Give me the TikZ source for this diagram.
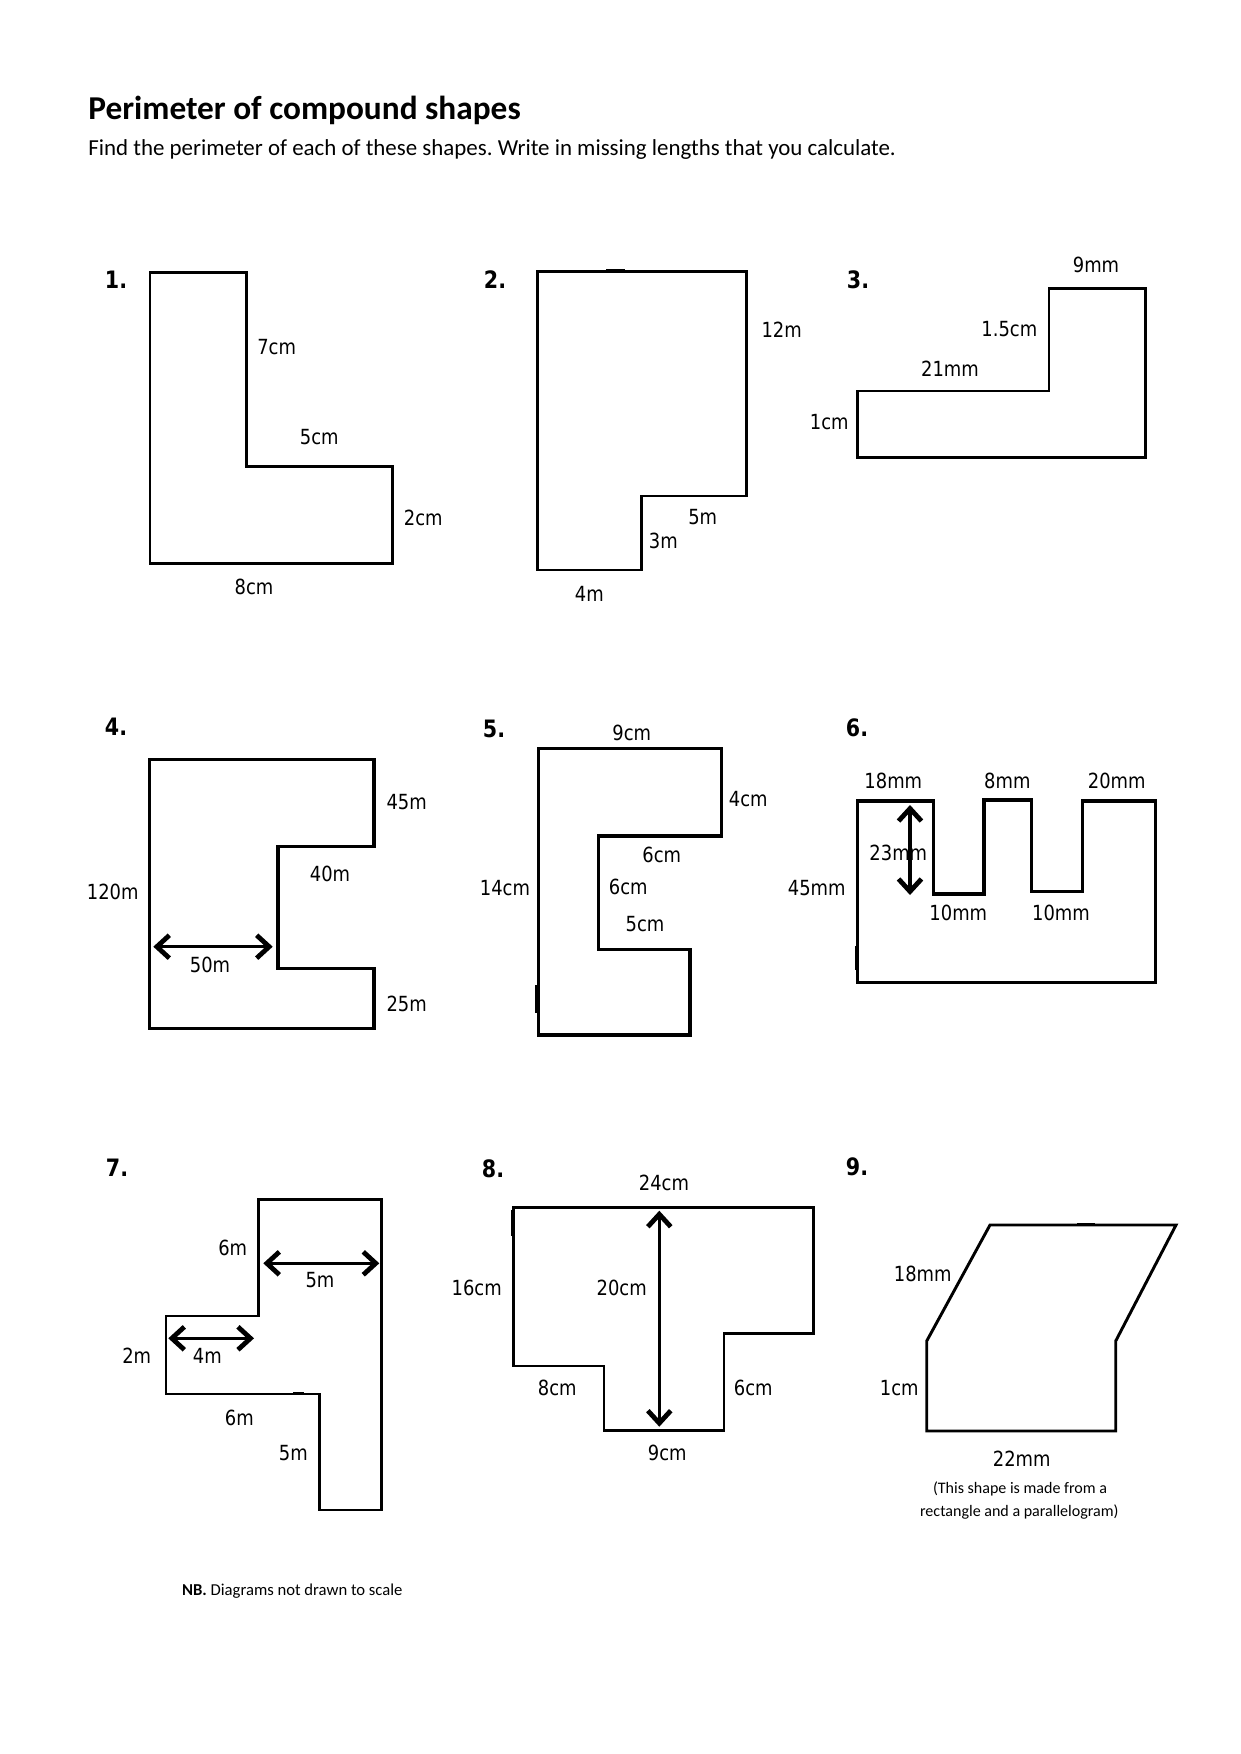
\documentclass[tikz,border=0pt]{standalone}
\usepackage{fontspec}
\setmainfont{Carlito}
\newfontfamily\lblfam[FakeStretch=0.86]{DejaVu Sans}
\usetikzlibrary{arrows.meta}
\frenchspacing
\tikzset{
  shp/.style={line width=1.4pt, line join=miter},
  thk/.style={line width=1.6pt, line join=miter},
  lbl/.style={font=\lblfam\fontsize{10}{12}\selectfont, inner sep=0pt},
  num/.style={font=\lblfam\bfseries\fontsize{11.5}{13}\selectfont, inner sep=0pt},
  dimarrow/.style={line width=1.7pt, {Straight Barb[length=6pt,width=11pt,line width=2.3pt]}-{Straight Barb[length=6pt,width=11pt,line width=2.3pt]}},
}
\begin{document}
\begin{tikzpicture}[x=0.48006pt,y=-0.48006pt]
\useasboundingbox (0,0) rectangle (1240,1754);

% heading
\node[anchor=base west, inner sep=0pt, font=\bfseries\fontsize{16}{19}\selectfont] (title) at (88,119.6) {Perimeter of compound shapes};
\node[anchor=base west, inner sep=0pt, font=\fontsize{11}{13}\selectfont] (sub) at (88,156) {Find the perimeter of each of these shapes. Write in missing lengths that you calculate.};

% numbers
\node[num] (n1) at (116,280) {1.};
\node[num] (n2) at (495,280) {2.};
\node[num] (n3) at (858,280) {3.};
\node[num] (n4) at (116,727) {4.};
\node[num] (n5) at (494,729) {5.};
\node[num] (n6) at (857,728) {6.};
\node[num] (n7) at (117,1168) {7.};
\node[num] (n8) at (493,1169) {8.};
\node[num] (n9) at (857,1167) {9.};

% ---------- shape 1
\draw[shp] (150,272.7) -- (246.7,272.7) -- (246.7,466.7) -- (392.7,466.7) -- (392.7,563.3) -- (150,563.3) -- cycle;
\node[lbl] (a1) at (276.7,347.3) {7cm};
\node[lbl] (a2) at (319.3,436.7) {5cm};
\node[lbl] (a3) at (423.3,518.3) {2cm};
\node[lbl] (a4) at (254,586.7) {8cm};

% ---------- shape 2
\draw[shp] (537.3,271.7) -- (746.7,271.7) -- (746.7,496) -- (641.3,496) -- (641.3,570) -- (537.3,570) -- cycle;
\draw[shp] (606,270.3) -- (625,270.3);
\node[lbl] (b1) at (781.7,330) {12m};
\node[lbl] (b2) at (702.7,517.3) {5m};
\node[lbl] (b3) at (663.3,540.7) {3m};
\node[lbl] (b4) at (589.3,594) {4m};

% ---------- shape 3
\draw[shp] (857.3,391) -- (1049,391) -- (1049,288.3) -- (1145.7,288.3) -- (1145.7,457.7) -- (857.3,457.7) -- cycle;
\node[lbl] (c1) at (1096,265) {9mm};
\node[lbl] (c2) at (1009.3,329.3) {1.5cm};
\node[lbl] (c3) at (950,368.3) {21mm};
\node[lbl] (c4) at (829.3,421.7) {1cm};

% ---------- shape 4
\draw[thk] (149.3,759.3) -- (374,759.3) -- (374,846.7) -- (278,846.7) -- (278,968.3) -- (374,968.3) -- (374,1028.3) -- (149.3,1028.3) -- cycle;
\node[lbl] (d1) at (406.7,801.7) {45m};
\node[lbl] (d2) at (330,874) {40m};
\node[lbl] (d3) at (112.7,891.7) {120m};
\node[lbl] (d4) at (210,965) {50m};
\node[lbl] (d5) at (406.7,1004) {25m};
\coordinate (d4a) at (153.3,946.7);
\coordinate (d4b) at (272.7,946.7);
\draw[dimarrow] (d4a) -- (d4b);

% ---------- shape 5
\draw[thk] (538.3,748.3) -- (721.7,748.3) -- (721.7,836) -- (598.3,836) -- (598.3,949.3) -- (690,949.3) -- (690,1035) -- (538.3,1035) -- cycle;
\draw[thk] (536.6,985) -- (536.6,1013);
\node[lbl] (e1) at (631.7,733.3) {9cm};
\node[lbl] (e2) at (748.3,799.3) {4cm};
\node[lbl] (e3) at (661.7,855) {6cm};
\node[lbl] (e4) at (628.3,886.7) {6cm};
\node[lbl] (e5) at (505,888.3) {14cm};
\node[lbl] (e6) at (645,924) {5cm};

% ---------- shape 6
\draw[thk] (857.3,801) -- (933.3,801) -- (933.3,894) -- (984,894) -- (984,800) -- (1031.7,800) -- (1031.7,891.7) -- (1082.7,891.7) -- (1082.7,801) -- (1155.7,801) -- (1155.7,982.7) -- (857.3,982.7) -- cycle;
\draw[thk] (856.2,946) -- (856.2,970);
\node[lbl] (f1) at (893.3,780.7) {18mm};
\node[lbl] (f2) at (1007.3,780.7) {8mm};
\node[lbl] (f3) at (1116.7,780.7) {20mm};
\node[lbl] (f4) at (898.3,853.3) {23mm};
\node[lbl] (f5) at (816.7,888.3) {45mm};
\node[lbl] (f6) at (958.3,913.3) {10mm};
\node[lbl] (f7) at (1061,913.3) {10mm};
\coordinate (f4a) at (910,805);
\coordinate (f4b) at (910,895);
\draw[dimarrow] (f4a) -- (f4b);

% ---------- shape 7
\draw[shp] (258.3,1199.3) -- (381.7,1199.3) -- (381.7,1510) -- (319.3,1510) -- (319.3,1394) -- (166,1394) -- (166,1316) -- (258.3,1316) -- cycle;
\draw[shp] (293,1393) -- (304,1393);
\node[lbl] (g1) at (232.7,1248.3) {6m};
\node[lbl] (g2) at (320,1280) {5m};
\node[lbl] (g3) at (136.7,1356) {2m};
\node[lbl] (g4) at (207.3,1356) {4m};
\node[lbl] (g5) at (239.3,1418.3) {6m};
\node[lbl] (g6) at (293.3,1452.7) {5m};
\coordinate (g2a) at (263.3,1263.3);
\coordinate (g2b) at (379.3,1263.3);
\draw[dimarrow] (g2a) -- (g2b);
\coordinate (g4a) at (168.3,1338.3);
\coordinate (g4b) at (254,1338.3);
\draw[dimarrow] (g4a) -- (g4b);

% ---------- shape 8
\draw[shp] (513.3,1207.7) -- (813.3,1207.7) -- (813.3,1333.3) -- (724,1333.3) -- (724,1430.7) -- (604,1430.7) -- (604,1366) -- (513.3,1366) -- cycle;
\draw[shp] (512.6,1210) -- (512.6,1236);
\node[lbl] (h1) at (664,1183.3) {24cm};
\node[lbl] (h2) at (476.7,1288.3) {16cm};
\node[lbl] (h3) at (621.7,1288.3) {20cm};
\node[lbl] (h4) at (557.3,1388.3) {8cm};
\node[lbl] (h5) at (753.3,1388.3) {6cm};
\node[lbl] (h6) at (667.3,1453.3) {9cm};
\coordinate (h3a) at (659.3,1210.7);
\coordinate (h3b) at (659.3,1426.7);
\draw[dimarrow] (h3a) -- (h3b);

% ---------- shape 9
\draw[shp] (926.7,1431) -- (926.7,1341) -- (990,1225) -- (1176,1225) -- (1115.7,1341) -- (1115.7,1431) -- cycle;
\draw[shp] (1077,1224) -- (1095,1224);
\node[lbl] (i1) at (922.7,1274) {18mm};
\node[lbl] (i2) at (899.3,1388.3) {1cm};
\node[lbl] (i3) at (1021.7,1458.3) {22mm};
\node[inner sep=0pt, font=\fontsize{7.7}{9}\selectfont] (i4) at (1020,1489.3) {(This shape is made from a};
\node[inner sep=0pt, font=\fontsize{7.7}{9}\selectfont] (i5) at (1019.3,1511.7) {rectangle and a parallelogram)};

% note
\node[anchor=west, inner sep=0pt, font=\fontsize{8}{10}\selectfont] (nb) at (181.7,1590.7) {\textbf{NB.} Diagrams not drawn to scale};
\end{tikzpicture}
\end{document}
